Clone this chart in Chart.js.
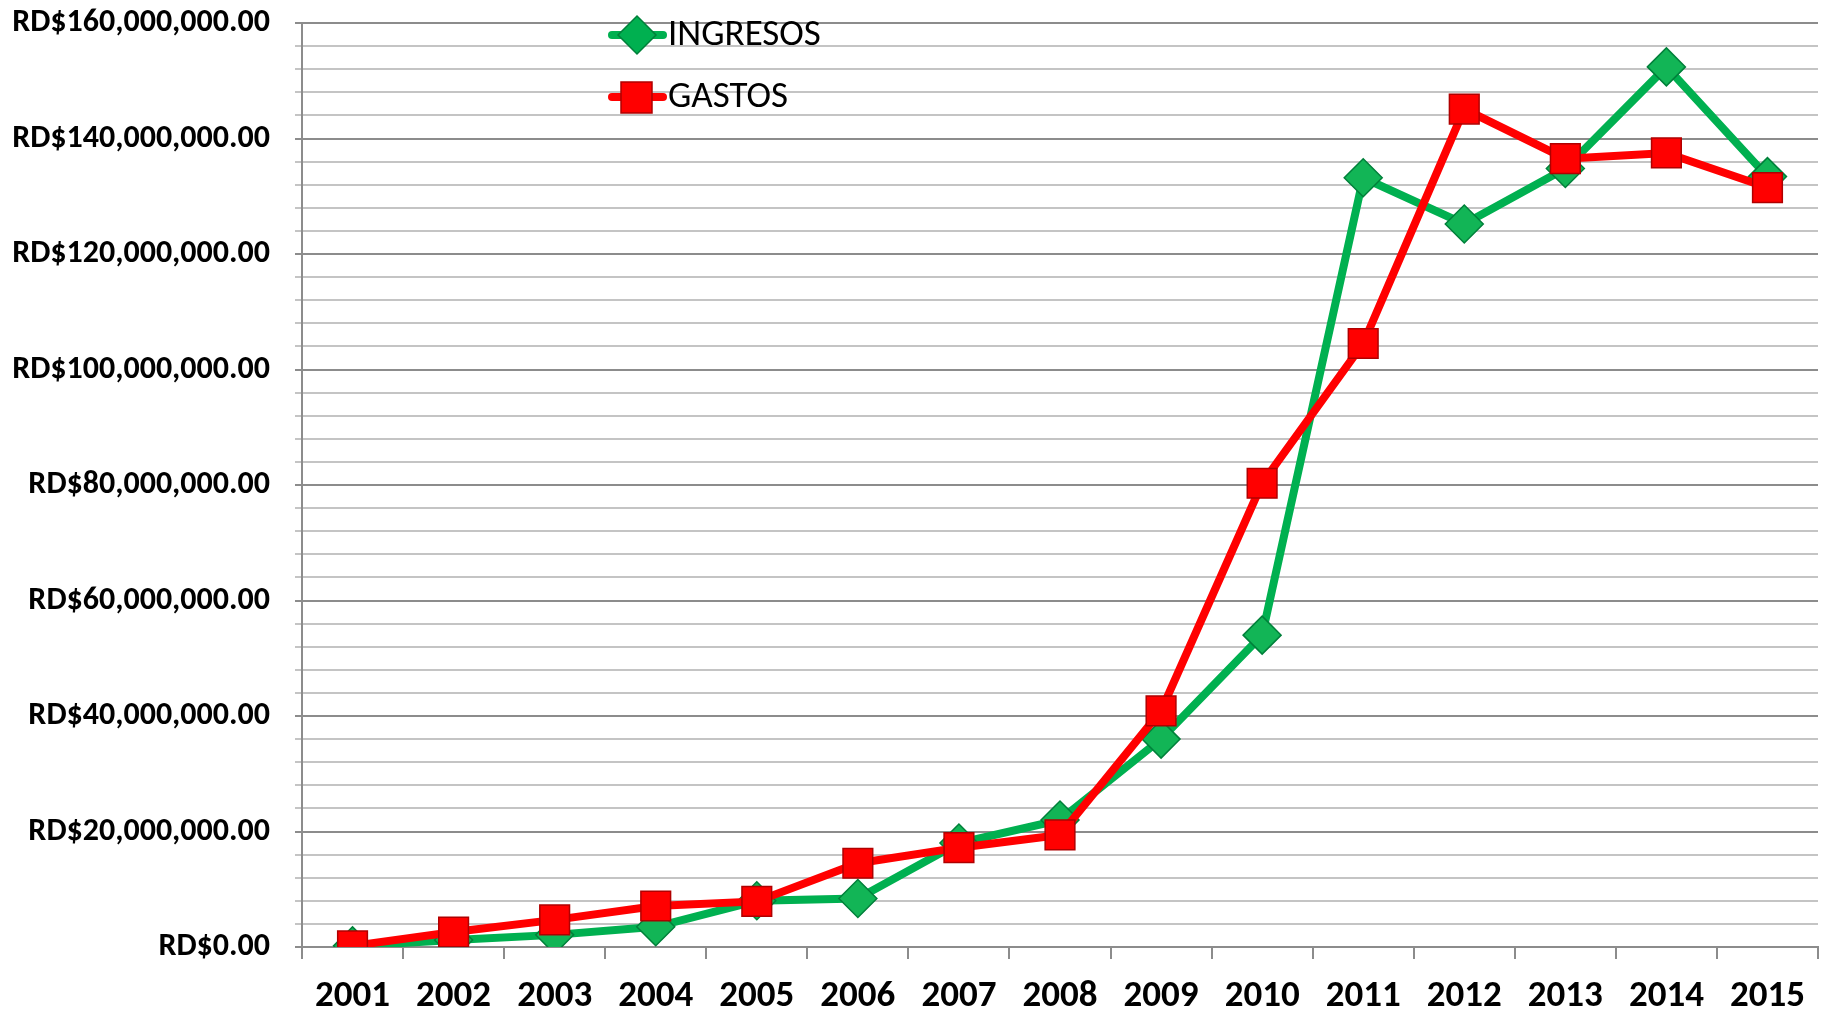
<!DOCTYPE html>
<html>
<head>
<meta charset="utf-8">
<script src="https://cdn.jsdelivr.net/npm/chart.js@4/dist/chart.umd.min.js"></script>
<style>
  html, body { margin: 0; padding: 0; background: #fff; overflow: hidden; }
  #wrap { width: 1826px; height: 1015px; }
  canvas { display: block; }
</style>
</head>
<body>
<div id="wrap"><canvas id="chart" width="1826" height="1015"></canvas></div>
<script>
const years = ["2001","2002","2003","2004","2005","2006","2007","2008","2009","2010","2011","2012","2013","2014","2015"];

// values in RD$
const ingresos = [0.2e6, 1.2e6, 2.1e6, 3.5e6, 8.0e6, 8.4e6, 18.0e6, 22.0e6, 36.0e6, 54.0e6, 133.2e6, 125.2e6, 134.8e6, 152.4e6, 133.4e6];
const gastos   = [0.2e6, 2.6e6, 4.7e6, 7.1e6, 7.9e6, 14.5e6, 17.2e6, 19.4e6, 40.9e6, 80.3e6, 104.5e6, 145.1e6, 136.5e6, 137.5e6, 131.5e6];

const yMax = 160e6;
const yStep = 4e6;
const yLabelStep = 20e6;

const green = "#00B050";
const red = "#FF0000";
const font = "Carlito, Lato, sans-serif";

// big markers make chart.js reserve extra space on the right, don't want that
const LineCtrl = Chart.registry.getController("line");
LineCtrl.prototype.getMaxOverflow = function () { return 0; };

function money(v) {
  return "RD$" + v.toLocaleString("en-US", { minimumFractionDigits: 2, maximumFractionDigits: 2 });
}

// legend drawn inside the plot, like the original
const legendPlugin = {
  id: "insideLegend",
  afterDraw(chart) {
    const ctx = chart.ctx;
    const items = [
      { label: "INGRESOS", color: green, border: "#00803A", shape: "diamond", y: 35 },
      { label: "GASTOS", color: red, border: "#B00000", shape: "square", y: 97 }
    ];
    ctx.save();
    for (const it of items) {
      ctx.strokeStyle = it.color;
      ctx.lineWidth = 8;
      ctx.lineCap = "round";
      ctx.beginPath();
      ctx.moveTo(612, it.y);
      ctx.lineTo(663, it.y);
      ctx.stroke();
      ctx.fillStyle = it.color;
      ctx.strokeStyle = it.border;
      ctx.lineWidth = 1.5;
      ctx.beginPath();
      if (it.shape === "diamond") {
        ctx.moveTo(637, it.y - 19);
        ctx.lineTo(656, it.y);
        ctx.lineTo(637, it.y + 19);
        ctx.lineTo(618, it.y);
      } else {
        ctx.rect(621, it.y - 15, 31, 31);
      }
      ctx.closePath();
      ctx.fill();
      ctx.stroke();
      ctx.fillStyle = "#000";
      ctx.font = "37px " + font;
      ctx.textBaseline = "middle";
      ctx.fillText(it.label, 668, it.y + 1);
    }
    ctx.restore();
  }
};

new Chart(document.getElementById("chart"), {
  type: "line",
  data: {
    labels: years,
    datasets: [
      {
        label: "INGRESOS",
        data: ingresos,
        borderColor: green,
        backgroundColor: green,
        pointBackgroundColor: "#12B556",
        pointBorderColor: "#00803A",
        pointBorderWidth: 1.5,
        borderWidth: 8,
        pointStyle: "rectRot",
        pointRadius: 19,
        pointHoverRadius: 19,
        order: 1
      },
      {
        label: "GASTOS",
        data: gastos,
        borderColor: red,
        backgroundColor: red,
        pointBackgroundColor: red,
        pointBorderColor: "#B00000",
        pointBorderWidth: 1.5,
        borderWidth: 8,
        pointStyle: "rect",
        pointRadius: 21,
        pointHoverRadius: 21,
        order: 0
      }
    ]
  },
  options: {
    responsive: false,
    animation: false,
    layout: { padding: { top: 23, right: 8, left: 0, bottom: 0 } },
    plugins: {
      legend: { display: false },
      tooltip: { enabled: false }
    },
    scales: {
      x: {
        offset: true,
        grid: {
          display: true,
          offset: true,
          drawOnChartArea: false,
          drawTicks: true,
          tickLength: 12,
          color: "#8C8C8C",
          lineWidth: 2
        },
        border: { color: "#8C8C8C", width: 2 },
        ticks: {
          color: "#000",
          padding: 16,
          maxRotation: 0,
          font: { family: font, size: 37, weight: "bold" }
        },
        afterFit(scale) {
          scale.height = 68;
          scale.paddingLeft = 0;
          scale.paddingRight = 0;
        }
      },
      y: {
        min: 0,
        max: yMax,
        grid: {
          color: ctx => (ctx.tick && ctx.tick.value % yLabelStep === 0) ? "#8C8C8C" : "#C4C4C4",
          lineWidth: 2,
          tickLength: 7,
          drawTicks: true
        },
        border: { color: "#8C8C8C", width: 2 },
        ticks: {
          stepSize: yStep,
          autoSkip: false,
          padding: 25,
          color: "#000",
          font: { family: font, size: 32, weight: "bold" },
          callback: v => (v % yLabelStep === 0 ? money(v) : "")
        },
        afterFit(scale) {
          scale.width = 302;
          scale.paddingTop = 0;
          scale.paddingBottom = 0;
        }
      }
    }
  },
  plugins: [legendPlugin]
});
</script>
</body>
</html>
